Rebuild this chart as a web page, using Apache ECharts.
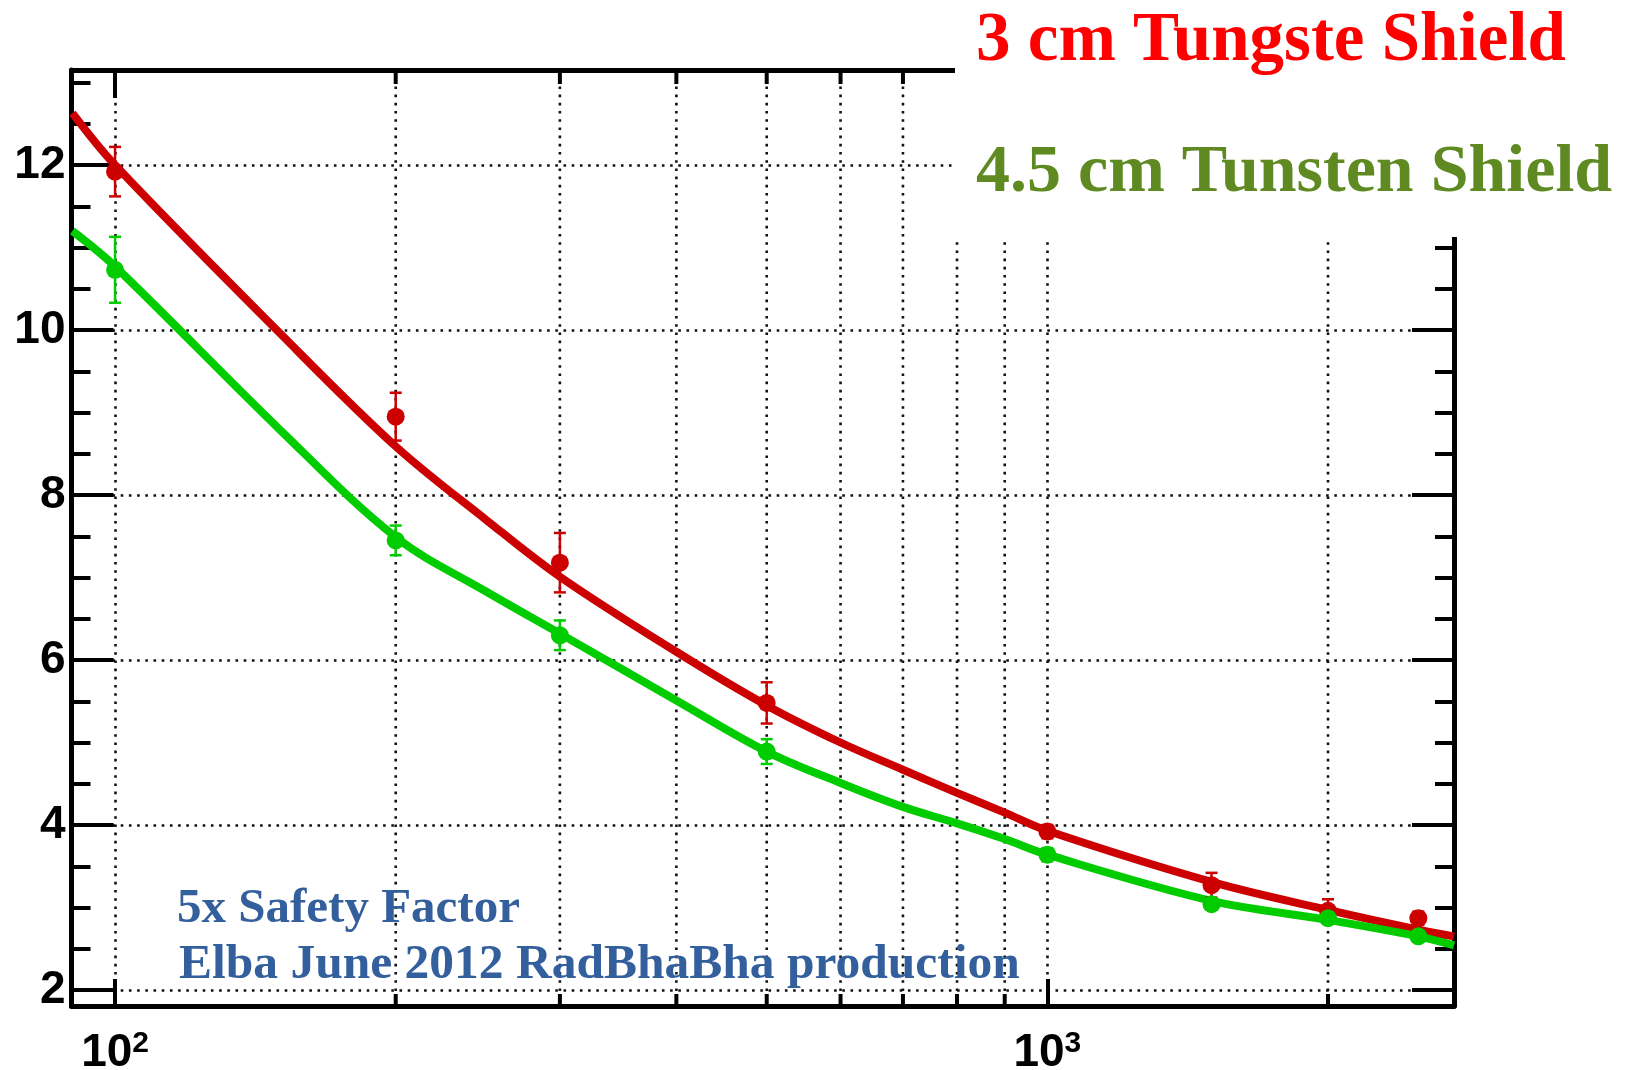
<!DOCTYPE html>
<html><head><meta charset="utf-8">
<script src="https://cdn.jsdelivr.net/npm/echarts@6/dist/echarts.min.js"></script>
<style>html,body{margin:0;padding:0;background:#fff}#c{width:1636px;height:1070px}</style>
</head><body><div id="c"></div>
<script>
// axis ranges
const xMin = 89.8, xMax = 2730;
const yMin = 1.806, yMax = 13.152;
// measured points
const energies = [100, 200, 300, 500, 1000, 1500, 2000, 2500];
const red3cm = [11.92, 8.95, 7.18, 5.48, 3.92, 3.27, 2.96, 2.87];
const red3cmErr = [0.30, 0.29, 0.36, 0.25, 0.08, 0.15, 0.14, 0.08];
const green45cm = [10.73, 7.45, 6.30, 4.89, 3.64, 3.04, 2.87, 2.65];
const green45cmErr = [0.40, 0.18, 0.18, 0.15, 0.08, 0.06, 0.06, 0.05];
// fit curves
const fitX = [90, 100, 150, 200, 250, 300, 400, 500, 600, 700, 800, 900, 1000, 1500, 2000, 2500, 2730];
const fitRed = [12.63, 12.0, 9.97, 8.59, 7.70, 7.01, 6.10, 5.45, 5.0, 4.67, 4.39, 4.15, 3.93, 3.31, 2.97, 2.73, 2.65];
const fitGreen = [11.2, 10.77, 8.80, 7.49, 6.83, 6.32, 5.51, 4.89, 4.51, 4.22, 4.02, 3.83, 3.64, 3.08, 2.85, 2.65, 2.54];
// extra vertical grid lines (log minor ticks)
const minorGridX = [200, 300, 400, 500, 600, 700, 800, 900, 2000];
const legendLabels = ['3 cm Tungste Shield', '4.5 cm Tunsten Shield'];
const noteLines = ['5x Safety Factor', 'Elba June 2012 RadBhaBha production'];

const RED = '#cc0000', GREEN = '#00cc00';
const chart = echarts.init(document.getElementById('c'), null, {renderer: 'canvas'});

function isPow10(v) {
  const l = Math.log10(v);
  return Math.abs(l - Math.round(l)) < 1e-6;
}
function errorSeries(vals, errs, color) {
  return {
    type: 'custom', z: 3, silent: true,
    data: energies.map((e, i) => [e, vals[i], errs[i]]),
    encode: {x: 0, y: 1},
    renderItem(params, api) {
      const x = api.value(0), y = api.value(1), e = api.value(2);
      const top = api.coord([x, y + e]);
      const bot = api.coord([x, y - e]);
      const cw = 6;
      const st = {stroke: color, lineWidth: 2.5};
      return {type: 'group', children: [
        {type: 'line', shape: {x1: top[0], y1: top[1], x2: bot[0], y2: bot[1]}, style: st},
        {type: 'line', shape: {x1: top[0] - cw, y1: top[1], x2: top[0] + cw, y2: top[1]}, style: st},
        {type: 'line', shape: {x1: bot[0] - cw, y1: bot[1], x2: bot[0] + cw, y2: bot[1]}, style: st}
      ]};
    }
  };
}
const dotted = {color: '#111', width: 2.6, type: [2.6, 5.6]};
const axisLineStyle = {color: '#000', width: 5};

const option = {
  backgroundColor: '#fff',
  animation: false,
  grid: {left: 71.5, top: 70, width: 1382.5, height: 936, containLabel: false, outerBoundsMode: 'none'},
  xAxis: [{
    type: 'log', logBase: 10, min: xMin, max: xMax, position: 'bottom',
    axisLine: {show: true, onZero: false, lineStyle: axisLineStyle},
    axisTick: {show: true, inside: true, length: 27, lineStyle: {color: '#000', width: 4}},
    minorTick: {show: false},
    splitLine: {show: true, lineStyle: dotted},
    axisLabel: {
      show: true, margin: 23, showMinLabel: false, showMaxLabel: false,
      formatter: v => isPow10(v) ? '{b|10}{s|' + Math.round(Math.log10(v)) + '}' : '',
      rich: {
        b: {fontSize: 46, fontWeight: 'bold', fontFamily: 'Liberation Sans', color: '#000', lineHeight: 48},
        s: {fontSize: 30, fontWeight: 'bold', fontFamily: 'Liberation Sans', color: '#000', verticalAlign: 'top', lineHeight: 24}
      }
    }
  }, {
    type: 'log', logBase: 10, min: xMin, max: xMax, position: 'top',
    axisLine: {show: true, onZero: false, lineStyle: axisLineStyle},
    axisTick: {show: true, inside: true, length: 28, lineStyle: {color: '#000', width: 4}},
    splitLine: {show: false}, axisLabel: {show: false}
  }],
  yAxis: [{
    type: 'value', min: yMin, max: yMax, position: 'left',
    axisLine: {show: true, onZero: false, lineStyle: axisLineStyle},
    axisTick: {show: true, inside: true, length: 42, lineStyle: {color: '#000', width: 4}},
    minorTick: {show: true, splitNumber: 4, length: 19, lineStyle: {color: '#000', width: 4}},
    splitLine: {show: true, lineStyle: dotted},
    axisLabel: {
      show: true, margin: 6, showMinLabel: false, showMaxLabel: false,
      fontSize: 46, fontWeight: 'bold', fontFamily: 'Liberation Sans', color: '#000',
      formatter: v => (Math.abs(v - Math.round(v)) < 1e-6 && Math.round(v) % 2 === 0) ? String(Math.round(v)) : ''
    }
  }, {
    type: 'value', min: yMin, max: yMax, position: 'right',
    axisLine: {show: true, onZero: false, lineStyle: axisLineStyle},
    axisTick: {show: true, inside: true, length: 42, lineStyle: {color: '#000', width: 4}},
    minorTick: {show: true, splitNumber: 4, length: 19, lineStyle: {color: '#000', width: 4}},
    splitLine: {show: false}, axisLabel: {show: false}
  }],
  series: [
    {
      type: 'custom', z: 1, silent: true,
      data: minorGridX.map(v => [v, yMin]),
      encode: {x: 0, y: 1},
      renderItem(params, api) {
        const cs = params.coordSys;
        const x = api.coord([api.value(0), yMin])[0];
        return {type: 'group', children: [
          {type: 'line', shape: {x1: x, y1: cs.y, x2: x, y2: cs.y + cs.height}, style: {stroke: '#111', lineWidth: 2.6, lineDash: [2.6, 5.6]}},
          {type: 'line', shape: {x1: x, y1: cs.y + cs.height, x2: x, y2: cs.y + cs.height - 12}, style: {stroke: '#000', lineWidth: 4}},
          {type: 'line', shape: {x1: x, y1: cs.y, x2: x, y2: cs.y + 14}, style: {stroke: '#000', lineWidth: 4}}
        ]};
      }
    },
    {
      name: legendLabels[0], type: 'line', z: 2, smooth: 0.35, showSymbol: false, silent: true,
      data: fitX.map((x, i) => [x, fitRed[i]]),
      lineStyle: {color: RED, width: 8}
    },
    {
      name: legendLabels[1], type: 'line', z: 2, smooth: 0.35, showSymbol: false, silent: true,
      data: fitX.map((x, i) => [x, fitGreen[i]]),
      lineStyle: {color: GREEN, width: 8}
    },
    errorSeries(red3cm, red3cmErr, RED),
    errorSeries(green45cm, green45cmErr, GREEN),
    {
      type: 'scatter', z: 4, symbol: 'circle', symbolSize: 18, silent: true,
      data: energies.map((x, i) => [x, red3cm[i]]), itemStyle: {color: RED, opacity: 1}
    },
    {
      type: 'scatter', z: 4, symbol: 'circle', symbolSize: 18, silent: true,
      data: energies.map((x, i) => [x, green45cm[i]]), itemStyle: {color: GREEN, opacity: 1}
    }
  ],
  graphic: [
    {type: 'rect', z: 100, silent: true, shape: {x: 955, y: 0, width: 681, height: 237}, style: {fill: '#fff'}},
    {type: 'text', z: 101, x: 976, y: 42, style: {text: legendLabels[0], fontSize: 69, fontWeight: 'bold', fontFamily: 'Liberation Serif', fill: '#ff0000', verticalAlign: 'middle', align: 'left'}},
    {type: 'text', z: 101, x: 976, y: 173, style: {text: legendLabels[1], fontSize: 68, fontWeight: 'bold', fontFamily: 'Liberation Serif', fill: '#5f8a22', verticalAlign: 'middle', align: 'left'}},
    {type: 'text', z: 101, x: 177, y: 909.5, style: {text: noteLines[0], fontSize: 49, fontWeight: 'bold', fontFamily: 'Liberation Serif', fill: '#335f9c', verticalAlign: 'middle', align: 'left'}},
    {type: 'text', z: 101, x: 179, y: 965, style: {text: noteLines[1], fontSize: 49.5, fontWeight: 'bold', fontFamily: 'Liberation Serif', fill: '#335f9c', verticalAlign: 'middle', align: 'left'}}
  ]
};
chart.setOption(option);
</script>
</body></html>
